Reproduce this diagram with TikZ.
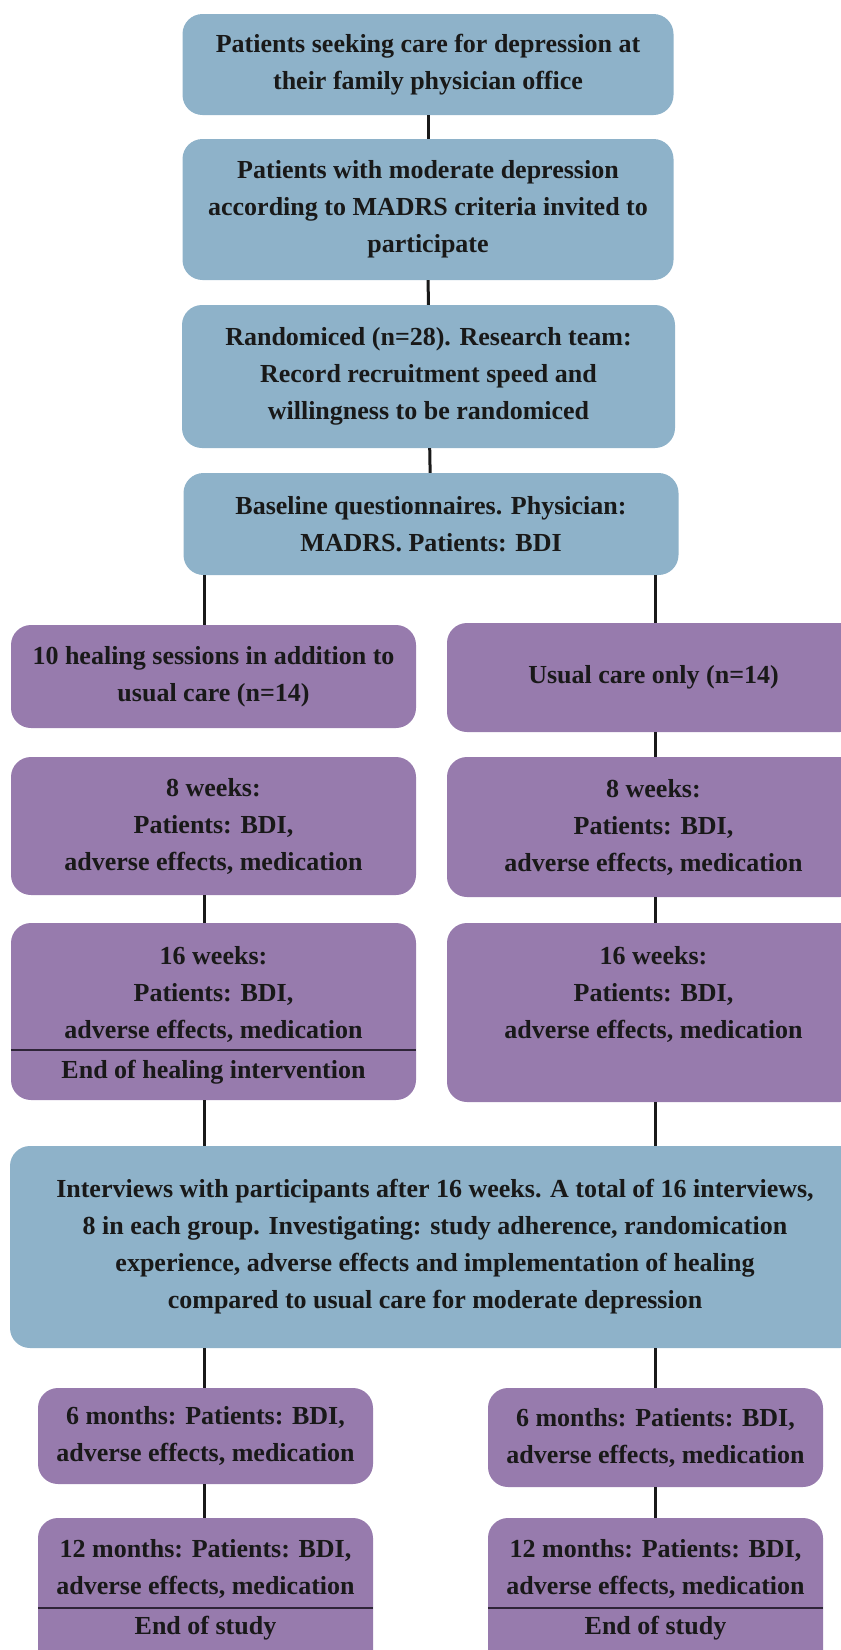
\documentclass[tikz,border=0pt]{standalone}
\usepackage{fontspec}
\setmainfont{Liberation Serif}
\usepackage{xcolor}
\usepackage{tikz}
\usetikzlibrary{calc, positioning}
\definecolor{boxblue}{HTML}{8EB2C9}
\definecolor{boxpurple}{HTML}{977BAD}
\definecolor{sepline}{HTML}{2E2438}
\tikzstyle{bluebox}=[rectangle, rounded corners=20pt, fill=boxblue, align=center, inner sep=0pt, font=\fontsize{26}{37}\selectfont\bfseries, text=black!90]
\tikzstyle{purplebox}=[bluebox, fill=boxpurple]
\tikzstyle{boxtext}=[align=center, inner sep=0pt, font=\fontsize{26}{37}\selectfont\bfseries, text=black!90]
\tikzstyle{link}=[line width=3pt, black!90]
\tikzstyle{split}=[line width=2pt, sepline]

\begin{document}
\begin{tikzpicture}[x=1pt, y=-1pt]
\useasboundingbox (0,0) rectangle (841,1650);

% Column positions
\coordinate (colL) at (204,0);
\coordinate (colR) at (655,0);

% Top column
\node[bluebox, minimum width=491, minimum height=101] (b1) at (428,64.5) {Patients seeking care for depression at\\their family physician office};
\node[bluebox, minimum width=491, minimum height=141] (b2) at (428,209.5) {Patients with moderate depression\\according to MADRS criteria invited to\\participate};
\node[bluebox, minimum width=493, minimum height=143] (b3) at (428.5,376.5) {Randomiced (n=28). Research team:\\Record recruitment speed and\\willingness to be randomiced};
\node[bluebox, minimum width=495, minimum height=102] (b4) at (431,524) {Baseline questionnaires. Physician:\\MADRS. Patients: BDI};

\draw[link] (b1) -- (b2);
\draw[link] (b2) -- (b3);
\draw[link] (b3) -- (b4);

% Two arms
\node[purplebox, minimum width=405, minimum height=103] (p1l) at (213.5,676.5) {10 healing sessions in addition to\\usual care (n=14)};
\node[purplebox, minimum width=413, minimum height=109] (p1r) at (653.5,677.5) {Usual care only (n=14)};
\node[purplebox, minimum width=405, minimum height=138] (w8l) at (213.5,826) {8 weeks:\\Patients: BDI,\\adverse effects, medication};
\node[purplebox, minimum width=413, minimum height=140] (w8r) at (653.5,827) {8 weeks:\\Patients: BDI,\\adverse effects, medication};
\node[purplebox, minimum width=405, minimum height=177] (w16l) at (213.5,1011.5) {};
\node[purplebox, minimum width=413, minimum height=179] (w16r) at (653.5,1012.5) {};
\node[boxtext] (w16lt) at (213.5,994) {16 weeks:\\Patients: BDI,\\adverse effects, medication};
\node[boxtext] (w16rt) at (653.5,994) {16 weeks:\\Patients: BDI,\\adverse effects, medication};
\node[boxtext] (w16le) at (213.5,1072) {End of healing intervention};
\draw[split] (w16l.west |- 0,1050) -- (w16l.east |- 0,1050);

\draw[link] (b4.south -| colL) -- (p1l.north -| colL);
\draw[link] (b4.south -| colR) -- (p1r.north -| colR);
\draw[link] (p1r.south -| colR) -- (w8r.north -| colR);
\draw[link] (w8l.south -| colL) -- (w16l.north -| colL);
\draw[link] (w8r.south -| colR) -- (w16r.north -| colR);

% Interviews
\node[bluebox, minimum width=850, minimum height=202] (iv) at (435,1247) {Interviews with participants after 16 weeks. A total of 16 interviews,\\8 in each group. Investigating: study adherence, randomication\\experience, adverse effects and implementation of healing\\compared to usual care for moderate depression};

\draw[link] (w16l.south -| colL) -- (iv.north -| colL);
\draw[link] (w16r.south -| colR) -- (iv.north -| colR);

% Follow-up
\node[purplebox, minimum width=335, minimum height=96] (m6l) at (205.5,1436) {6 months: Patients: BDI,\\adverse effects, medication};
\node[purplebox, minimum width=335, minimum height=99] (m6r) at (655.5,1437.5) {6 months: Patients: BDI,\\adverse effects, medication};
\node[purplebox, minimum width=335, minimum height=172] (m12l) at (205.5,1604) {};
\node[purplebox, minimum width=335, minimum height=172] (m12r) at (655.5,1604) {};
\node[boxtext] (m12lt) at (205.5,1569) {12 months: Patients: BDI,\\adverse effects, medication};
\node[boxtext] (m12rt) at (655.5,1569) {12 months: Patients: BDI,\\adverse effects, medication};
\node[boxtext] (m12le) at (205.5,1628) {End of study};
\node[boxtext] (m12re) at (655.5,1628) {End of study};
\draw[split] (m12l.west |- 0,1608) -- (m12l.east |- 0,1608);
\draw[split] (m12r.west |- 0,1608) -- (m12r.east |- 0,1608);

\draw[link] (iv.south -| colL) -- (m6l.north -| colL);
\draw[link] (iv.south -| colR) -- (m6r.north -| colR);
\draw[link] (m6l.south -| colL) -- (m12l.north -| colL);
\draw[link] (m6r.south -| colR) -- (m12r.north -| colR);

\end{tikzpicture}
\end{document}
